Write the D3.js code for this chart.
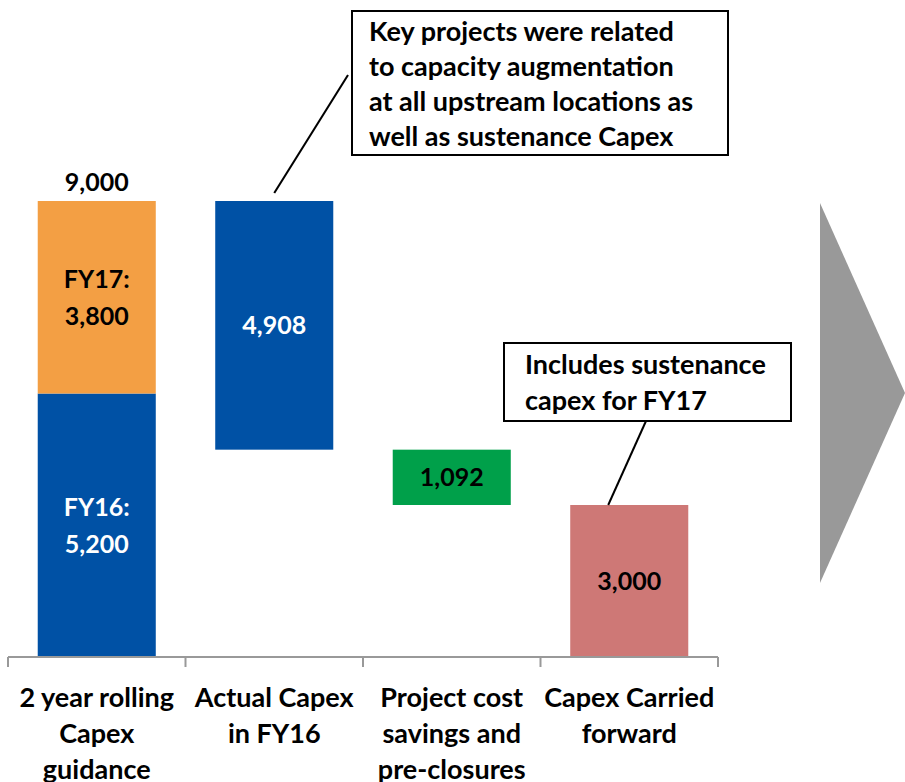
<!DOCTYPE html>
<html>
<head>
<meta charset="utf-8">
<script src="https://cdn.jsdelivr.net/npm/d3@7"></script>
<style>
    body { margin: 0; background: #fff; }
    svg { display: block; font-family: Lato, "Open Sans", sans-serif; font-weight: bold; }
</style>
</head>
<body>
<svg id="chart" width="905" height="782"></svg>
<script>
// chart values
const categories = [
    ["2 year rolling", "Capex", "guidance"],
    ["Actual Capex", "in FY16"],
    ["Project cost", "savings and", "pre-closures"],
    ["Capex Carried", "forward"]
]
const guidanceYears = ["FY16", "FY17"]
const guidanceValues = [5200, 3800]
const actualCapex = 4908
const costSavings = 1092
const carriedForward = 3000
const callout1 = ["Key projects were related", "to capacity augmentation", "at all upstream locations as", "well as sustenance Capex"]
const callout2 = ["Includes sustenance", "capex for FY17"]

const colors = {
    fy16: "#0051a5",
    fy17: "#f39f44",
    actual: "#0051a5",
    savings: "#00a04a",
    carried: "#ce7876",
    arrow: "#999999"
}

const total = d3.sum(guidanceValues)
const fmt = d3.format(",")

// waterfall segments
const segments = [
    {cat: 0, y0: 0, y1: guidanceValues[0], color: colors.fy16, lines: [guidanceYears[0] + ":", fmt(guidanceValues[0])], textColor: "#fff"},
    {cat: 0, y0: guidanceValues[0], y1: total, color: colors.fy17, lines: [guidanceYears[1] + ":", fmt(guidanceValues[1])], textColor: "#000"},
    {cat: 1, y0: total - actualCapex, y1: total, color: colors.actual, lines: [fmt(actualCapex)], textColor: "#fff"},
    {cat: 2, y0: total - actualCapex - costSavings, y1: total - actualCapex, color: colors.savings, lines: [fmt(costSavings)], textColor: "#000"},
    {cat: 3, y0: 0, y1: carriedForward, color: colors.carried, lines: [fmt(carriedForward)], textColor: "#000"}
]

const svg = d3.select("#chart")
const textSize = 27
const numberSize = 25
const lineHeight = 36
const pad = 0.335

const x = d3.scaleBand()
    .domain(d3.range(categories.length))
    .range([8, 718])
    .paddingInner(pad)
    .paddingOuter(pad / 2)
const y = d3.scaleLinear().domain([0, total]).range([657, 201])

// gray arrow on the right
svg.append("path")
    .attr("d", "M820,203 L905,393 L820,583 Z")
    .attr("fill", colors.arrow)

// bars
svg.selectAll("rect.bar")
    .data(segments)
    .enter()
    .append("rect")
    .attr("class", "bar")
    .attr("x", d => x(d.cat))
    .attr("y", d => y(d.y1))
    .attr("width", x.bandwidth())
    .attr("height", d => y(d.y0) - y(d.y1))
    .attr("fill", d => d.color)

// labels inside bars
svg.selectAll("text.barLabel")
    .data(segments)
    .enter()
    .append("text")
    .attr("class", "barLabel")
    .attr("text-anchor", "middle")
    .attr("font-size", numberSize)
    .attr("fill", d => d.textColor)
    .each(function (d) {
        const cy = (y(d.y0) + y(d.y1)) / 2
        const n = d.lines.length
        d3.select(this).selectAll("tspan")
            .data(d.lines)
            .enter()
            .append("tspan")
            .attr("x", x(d.cat) + x.bandwidth() / 2)
            .attr("y", (t, i) => cy + (i - (n - 1) / 2) * 37 + 9)
            .text(t => t)
    })

// total on top of first bar
svg.append("text")
    .attr("x", x(0) + x.bandwidth() / 2)
    .attr("y", y(total) - 10)
    .attr("text-anchor", "middle")
    .attr("font-size", numberSize)
    .text(fmt(total))

// category axis
const axisY = y(0)
svg.append("line")
    .attr("x1", x.range()[0]).attr("x2", x.range()[1])
    .attr("y1", axisY).attr("y2", axisY)
    .attr("stroke", "#999").attr("stroke-width", 2)
svg.selectAll("line.tick")
    .data(d3.range(categories.length + 1))
    .enter()
    .append("line")
    .attr("class", "tick")
    .attr("x1", i => x.range()[0] + i * x.step())
    .attr("x2", i => x.range()[0] + i * x.step())
    .attr("y1", axisY).attr("y2", axisY + 10)
    .attr("stroke", "#999").attr("stroke-width", 2)

svg.selectAll("text.cat")
    .data(categories)
    .enter()
    .append("text")
    .attr("class", "cat")
    .attr("text-anchor", "middle")
    .attr("font-size", textSize)
    .each(function (lines, i) {
        d3.select(this).selectAll("tspan")
            .data(lines)
            .enter()
            .append("tspan")
            .attr("x", x(i) + x.bandwidth() / 2)
            .attr("y", (t, j) => axisY + 50 + j * lineHeight)
            .text(t => t)
    })

// callouts
function drawCallout(box, lines, from, to) {
    svg.append("line")
        .attr("x1", from[0]).attr("y1", from[1])
        .attr("x2", to[0]).attr("y2", to[1])
        .attr("stroke", "#000").attr("stroke-width", 2)
    svg.append("rect")
        .attr("x", box.x).attr("y", box.y)
        .attr("width", box.w).attr("height", box.h)
        .attr("fill", "#fff").attr("stroke", "#000").attr("stroke-width", 2)
    svg.append("text")
        .attr("font-size", textSize)
        .selectAll("tspan")
        .data(lines)
        .enter()
        .append("tspan")
        .attr("x", box.x + box.pad)
        .attr("y", (t, i) => box.y + box.first + i * box.lh)
        .text(t => t)
}

drawCallout({x: 352, y: 11, w: 376, h: 144, pad: 17, first: 30, lh: 35},
    callout1,
    [x(1) + x.bandwidth() / 2, y(total) - 8], [348, 75])

drawCallout({x: 504, y: 343, w: 287, h: 78, pad: 21, first: 31, lh: 36},
    callout2,
    [x(3) + 38, y(carriedForward)], [646, 421])
</script>
</body>
</html>
